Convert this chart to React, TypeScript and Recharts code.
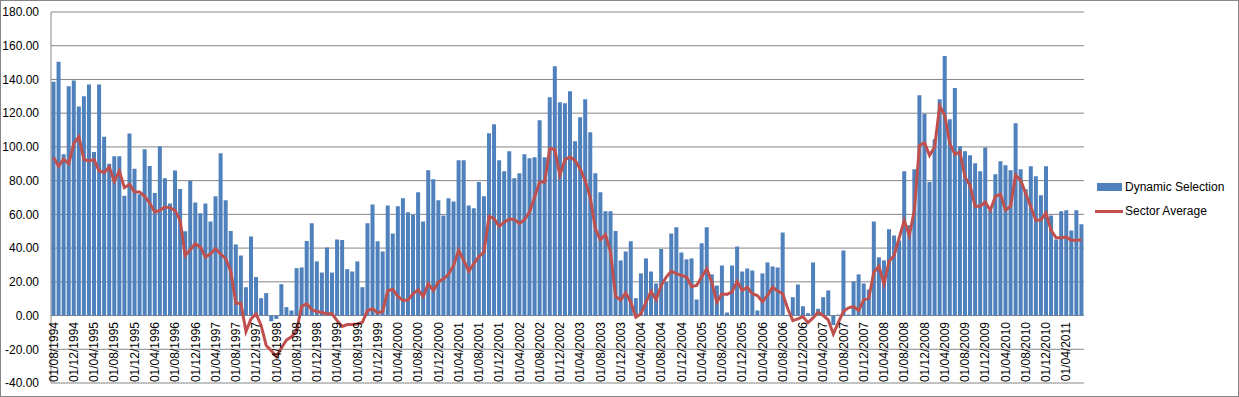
import { ComposedChart, Bar, Line, XAxis, YAxis, CartesianGrid, Legend } from "recharts";

// monthly categories, 01/08/1994 .. 01/07/2011
const MONTHS: string[] = [];
for (let i = 0; i < 204; i++) {
  const m = ((7 + i) % 12) + 1;
  const y = 1994 + Math.floor((7 + i) / 12);
  MONTHS.push(`01/${String(m).padStart(2, "0")}/${y}`);
}

const DYNAMIC_SELECTION = [
  138.6, 150.5, 95.6, 136, 139.4, 124, 130, 137, 97, 137, 106, 90, 94.5, 94.5, 71, 108, 87, 72, 98.6, 88.7,
  72.7, 100.4, 81.4, 66.5, 86, 75, 50, 80, 67, 60.6, 66.5, 55.8, 70.7, 96.2, 68.3, 50.1, 42.2, 35.6, 16.8, 46.9,
  22.8, 10.3, 13.3, -3.4, -2, 18.6, 5, 3, 28.1, 28.5, 44.2, 54.7, 32.1, 25.5, 40.4, 25.5, 45.1, 44.8, 27.5, 26.1,
  32.1, 16.8, 54.7, 65.9, 44, 38, 65.3, 48.7, 64.8, 69.5, 61.2, 59.8, 73.1, 55.8, 86.1, 80.8, 68.3, 59.4, 69.5, 67.7,
  92.1, 92.1, 65.3, 63.6, 79.2, 70.7, 108.1, 113.5, 92.1, 85.5, 97.4, 81.4, 84.4, 95.6, 93.3, 93.9, 115.8, 93.9, 129.5, 147.9,
  126.5, 125.9, 133, 103.4, 117.6, 128.3, 108.7, 84.4, 73.1, 61.8, 61.8, 50.1, 32.7, 38, 44, 10.3, 25, 33.9, 26.1, 19,
  39.4, 20, 48.7, 52.3, 37.4, 33.3, 33.9, 9.5, 42.8, 52.3, 24.4, 17.8, 29.7, 1.8, 29.7, 41, 26.1, 27.9, 26.7, 3,
  25, 31.5, 29.1, 28.5, 49.3, 0.4, 10.9, 18.4, 5.5, 1.4, 31.5, 4, 10.9, 14.9, -5.7, 0.5, 38.6, 0.5, 20.2, 24.4,
  19, 15.4, 55.8, 34.5, 32.7, 51.1, 47.5, 44.5, 85.5, 53.5, 86.7, 130.7, 119.6, 79.2, 104.6, 128.3, 153.9, 116.4, 134.9, 100.4,
  97.4, 95, 90.3, 85.5, 99.6, 62.4, 83.8, 91.5, 89.1, 86.1, 114.1, 86.7, 74.9, 88.5, 82.6, 71.3, 88.5, 59.4, 45.1, 61.8,
  62.4, 50.5, 62.4, 54.1,
];

const SECTOR_AVERAGE = [
  93.7, 88.5, 92.7, 90, 102, 106, 92.5, 91.7, 92.5, 85.7, 84.8, 88, 79.6, 85.7, 75.8, 77.8, 73.3, 73.3, 70.7, 66.7,
  61.4, 62.4, 64.4, 64, 62.4, 56.4, 35.6, 39, 42.6, 40.6, 34.7, 36.6, 39.6, 36.5, 33.7, 26.3, 7.3, 7.3, -9.5, -2,
  1, -5.9, -17.8, -20.8, -24.4, -19.2, -14.5, -12.5, -8.9, 5.5, 6.9, 3.4, 2.4, 1.8, 1, 1, -3, -6.5, -5.3, -5.3,
  -5, -4, 3, 4, 1.6, 2.4, 14.9, 15.5, 11.3, 8.9, 9.3, 12.9, 15.2, 11.3, 18.8, 14.9, 19.8, 21.8, 24.4, 29.7,
  38.6, 32.7, 26.3, 30.7, 35, 37.6, 58.8, 57.4, 52.9, 55.4, 57.2, 57, 54.5, 56.8, 61.4, 70.3, 79.2, 79.2, 99, 98.4,
  83.2, 92.5, 94, 92, 87, 80, 70, 51.5, 45, 48, 37.6, 11.3, 9.3, 13.3, 7.9, -1, 1, 7.9, 14.3, 9.3,
  17.8, 22.8, 26.3, 24.8, 23.8, 22.8, 17.2, 17.8, 22.8, 27.7, 19.8, 7.9, 12.9, 12.5, 14, 20.2, 14.9, 16.8, 12.9, 11.9,
  8.3, 11.9, 16.8, 14.5, 12.9, 4, -3, -2, -0.6, -4.2, -1.4, 2, 0, -2.6, -10.9, -4, 2.6, 4.6, 5.3, 3,
  9.3, 10.3, 25.7, 29.1, 18.8, 32.1, 35.6, 46.1, 56.4, 47.5, 62.4, 101, 102.4, 95, 100, 124.2, 118.8, 102, 95.6, 97,
  82.2, 77.2, 64.8, 64.8, 67.3, 62.4, 70.7, 71.9, 62.4, 64.8, 83.2, 80.2, 72.3, 64.4, 56.4, 56.8, 60.8, 50.5, 46.1, 46.1,
  46.5, 44.6, 44.6, 45,
];

const Y_TICKS = [-40, -20, 0, 20, 40, 60, 80, 100, 120, 140, 160, 180];

const FONT = "'Liberation Sans', Arial, sans-serif";
const BLUE = "#4F81BD";
const RED = "#C0504D";
const GRID = "#868686";
const LABEL_Y = 322;

const data = MONTHS.map((month, i) => ({
  month,
  ds: DYNAMIC_SELECTION[i],
  avg: SECTOR_AVERAGE[i],
}));

function MonthTick({ x, payload }: any) {
  return (
    <text
      transform={`translate(${x},${LABEL_Y}) rotate(-90)`}
      textAnchor="end"
      dy="0.35em"
      fontSize={12}
      fontFamily={FONT}
      fill="#000"
    >
      {payload.value}
    </text>
  );
}

function LegendBox() {
  return (
    <div style={{ fontFamily: FONT, fontSize: 12, color: "#000" }}>
      <div style={{ height: 24, display: "flex", alignItems: "center" }}>
        <span style={{ width: 25, height: 8, background: BLUE, marginLeft: 2 }} />
        <span style={{ marginLeft: 3 }}>Dynamic Selection</span>
      </div>
      <div style={{ height: 24, display: "flex", alignItems: "center" }}>
        <span style={{ width: 28, height: 3, background: RED }} />
        <span style={{ marginLeft: 2 }}>Sector Average</span>
      </div>
    </div>
  );
}

export default function App() {
  return (
    <div style={{ position: "absolute", left: 0, top: 0, width: 1239, height: 397, background: "#fff", fontFamily: FONT }}>
      <ComposedChart
        width={1239}
        height={397}
        data={data}
        margin={{ top: 12, right: 155, bottom: 0, left: 0 }}
        barCategoryGap="10%"
      >
        <CartesianGrid vertical={false} stroke={GRID} />
        <XAxis
          dataKey="month"
          interval={3}
          height={14}
          axisLine={false}
          tickLine={false}
          tick={<MonthTick />}
        />
        <YAxis
          width={51}
          domain={[-40, 180]}
          ticks={Y_TICKS}
          allowDataOverflow
          tickFormatter={(v: number) => v.toFixed(2)}
          axisLine={{ stroke: GRID }}
          tickLine={false}
          tickSize={4}
          tickMargin={8}
          tick={{ fontSize: 12, fill: "#000", fontFamily: FONT }}
        />
        <Bar dataKey="ds" name="Dynamic Selection" fill={BLUE} isAnimationActive={false} />
        <Line
          dataKey="avg"
          name="Sector Average"
          type="linear"
          stroke={RED}
          strokeWidth={3}
          dot={false}
          activeDot={false}
          isAnimationActive={false}
        />
        <Legend
          layout="vertical"
          verticalAlign="middle"
          align="center"
          wrapperStyle={{ left: 1095, top: 175, width: 144 }}
          content={() => <LegendBox />}
        />
      </ComposedChart>
      <div
        style={{
          position: "absolute",
          left: 0,
          top: 0,
          width: 1239,
          height: 397,
          boxSizing: "border-box",
          border: `1px solid ${GRID}`,
          pointerEvents: "none",
        }}
      />
    </div>
  );
}
